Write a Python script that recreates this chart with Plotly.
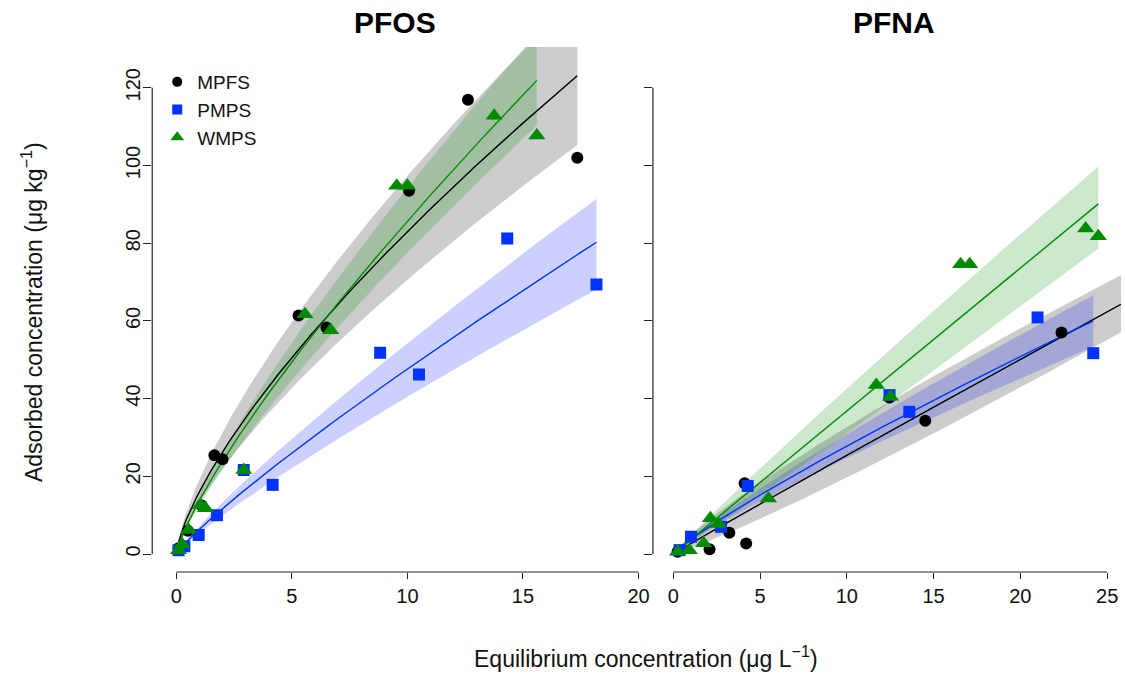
import numpy as np
import plotly.graph_objects as go

# ---------------- data ----------------
# PFOS panel
pfos_mpfs_x = [0.10, 0.50, 1.10, 1.65, 2.00, 5.29, 6.50, 10.07, 12.62, 17.35]
pfos_mpfs_y = [1.5, 6.0, 12.5, 25.4, 24.4, 61.4, 58.3, 93.5, 116.9, 102.0]
pfos_pmps_x = [0.10, 0.35, 0.97, 1.76, 2.92, 4.17, 8.82, 10.50, 14.32, 18.18]
pfos_pmps_y = [1.0, 2.0, 4.9, 10.0, 21.6, 17.8, 51.8, 46.2, 81.2, 69.4]
pfos_wmps_x = [0.10, 0.25, 0.53, 1.04, 1.26, 2.92, 5.57, 6.68, 9.54, 10.00, 13.75, 15.60]
pfos_wmps_y = [1.0, 2.5, 6.2, 12.6, 11.8, 21.6, 61.7, 57.6, 94.8, 94.8, 112.8, 107.7]

# PFNA panel
pfna_mpfs_x = [0.25, 2.09, 3.23, 4.11, 4.20, 12.46, 14.52, 22.37]
pfna_mpfs_y = [0.6, 1.2, 5.5, 18.2, 2.7, 40.3, 34.3, 57.0]
pfna_pmps_x = [0.36, 1.02, 2.75, 4.29, 12.46, 13.60, 20.99, 24.20]
pfna_pmps_y = [1.0, 4.45, 7.0, 17.5, 40.9, 36.6, 60.9, 51.7]
pfna_wmps_x = [0.25, 0.92, 1.75, 2.14, 2.60, 5.48, 11.70, 12.52, 16.56, 17.08, 23.76, 24.49]
pfna_wmps_y = [0.6, 1.0, 2.75, 9.2, 7.7, 14.3, 43.5, 40.5, 74.6, 74.6, 83.8, 81.8]

# Freundlich fits y = K * x^n, with confidence band edges K_lo*x^n_lo .. K_hi*x^n_hi
# order: MPFS, PMPS, WMPS
pfos_fit_K = [16.0, 6.38, 13.8]
pfos_fit_n = [0.715, 0.873, 0.793]
pfos_band_K_lo = [13.3, 5.42, 12.49]
pfos_band_n_lo = [0.725, 0.873, 0.793]
pfos_band_K_hi = [19.2, 7.27, 15.18]
pfos_band_n_hi = [0.705, 0.873, 0.793]
pfos_fit_xmin = [0.10, 0.10, 0.10]
pfos_fit_xmax = [17.35, 18.18, 15.60]

pfna_fit_K = [2.66, 3.73, 3.68]
pfna_fit_n = [0.98, 0.872, 1.0]
pfna_band_K_lo = [1.483, 3.32, 2.824]
pfna_band_n_lo = [1.123, 0.872, 1.04]
pfna_band_K_hi = [4.85, 4.14, 4.78]
pfna_band_n_hi = [0.829, 0.872, 0.95]
pfna_fit_xmin = [0.25, 0.36, 0.25]
pfna_fit_xmax = [27.0, 24.20, 24.49]

series_names = ["MPFS", "PMPS", "WMPS"]
series_colors = ["#000000", "#0033ff", "#008b00"]
band_colors = ["rgba(0,0,0,0.2)", "rgba(0,20,255,0.2)", "rgba(0,139,0,0.2)"]
marker_symbols = ["circle", "square", "triangle-up"]
marker_sizes = [12, 12, 15]

panel_titles = ["PFOS", "PFNA"]
x_title = "Equilibrium concentration (μg L<sup>−1</sup>)"
y_title = "Adsorbed concentration (μg kg<sup>−1</sup>)"
pfos_xticks = [0, 5, 10, 15, 20]
pfna_xticks = [0, 5, 10, 15, 20, 25]
yticks = [0, 20, 40, 60, 80, 100, 120]

FONT = "Liberation Sans, Arial, sans-serif"
W, H = 1125, 675
CX = 1 / 0.995   # small horizontal correction observed in rendering


def fx(px):
    return min(1.0, px * CX / W)


fig = go.Figure()

panels = [
    dict(xa="x", ya="y",
         pts=[(pfos_mpfs_x, pfos_mpfs_y), (pfos_pmps_x, pfos_pmps_y), (pfos_wmps_x, pfos_wmps_y)],
         K=pfos_fit_K, n=pfos_fit_n, Klo=pfos_band_K_lo, nlo=pfos_band_n_lo,
         Khi=pfos_band_K_hi, nhi=pfos_band_n_hi, xmin=pfos_fit_xmin, xmax=pfos_fit_xmax),
    dict(xa="x2", ya="y2",
         pts=[(pfna_mpfs_x, pfna_mpfs_y), (pfna_pmps_x, pfna_pmps_y), (pfna_wmps_x, pfna_wmps_y)],
         K=pfna_fit_K, n=pfna_fit_n, Klo=pfna_band_K_lo, nlo=pfna_band_n_lo,
         Khi=pfna_band_K_hi, nhi=pfna_band_n_hi, xmin=pfna_fit_xmin, xmax=pfna_fit_xmax),
]

for p in panels:
    for i in range(3):
        xs = np.linspace(p["xmin"][i], p["xmax"][i], 200)
        lo = p["Klo"][i] * xs ** p["nlo"][i]
        hi = p["Khi"][i] * xs ** p["nhi"][i]
        fig.add_trace(go.Scatter(
            x=np.concatenate([xs, xs[::-1]]), y=np.concatenate([hi, lo[::-1]]),
            fill="toself", fillcolor=band_colors[i], line=dict(width=0),
            mode="lines", hoverinfo="skip", showlegend=False,
            xaxis=p["xa"], yaxis=p["ya"]))
    for i in range(3):
        xs = np.linspace(p["xmin"][i], p["xmax"][i], 200)
        fig.add_trace(go.Scatter(
            x=xs, y=p["K"][i] * xs ** p["n"][i], mode="lines",
            line=dict(color=series_colors[i], width=1.4),
            showlegend=False, xaxis=p["xa"], yaxis=p["ya"]))
    for i in range(3):
        px, py = p["pts"][i]
        fig.add_trace(go.Scatter(
            x=px, y=py, mode="markers", name=series_names[i],
            marker=dict(color=series_colors[i], symbol=marker_symbols[i],
                        size=marker_sizes[i], line=dict(width=0)),
            showlegend=False, xaxis=p["xa"], yaxis=p["ya"]))

# legend entries
for i in range(3):
    fig.add_trace(go.Scatter(
        x=[None], y=[None], mode="markers", name=series_names[i],
        marker=dict(color=series_colors[i], symbol=marker_symbols[i],
                    size=[10, 10, 12][i], line=dict(width=0)),
        showlegend=True, xaxis="x", yaxis="y"))

# geometry (target pixels)
bot_px, top_px = 572, 47
yd = [(H - bot_px) / H, (H - top_px) / H]
left_dom = [fx(152), fx(645)]
right_dom = [fx(652), 1.0]
# right axis: 0 at 672.3 px, 17.33 px per unit (target)
r_unit = 17.33 * CX
r_lo = (652 - 672.3) / 17.33
r_hi = r_lo + (W - 652 * CX) / r_unit

axis_common = dict(showgrid=False, zeroline=False, showline=False,
                   ticks="outside", tickcolor="#222", tickwidth=1.2,
                   tickfont=dict(family=FONT, size=20, color="#111"))

fig.update_layout(
    width=W, height=H,
    margin=dict(l=0, r=0, t=0, b=0),
    paper_bgcolor="white", plot_bgcolor="white",
    showlegend=True,
    legend=dict(x=fx(157), y=1 - 63 / H, xanchor="left", yanchor="top",
                bgcolor="rgba(0,0,0,0)", font=dict(family=FONT, size=19, color="#111"),
                itemwidth=30, tracegroupgap=0),
    xaxis=dict(domain=left_dom, range=[-1.04, 20.32], tickvals=pfos_xticks,
               ticklen=6, anchor="y", **axis_common),
    yaxis=dict(domain=yd, range=[-4.63, 130.5], tickvals=yticks, ticklen=8,
               tickangle=-90, ticklabelstandoff=-5, anchor="x", **axis_common),
    xaxis2=dict(domain=right_dom, range=[r_lo, r_hi], tickvals=pfna_xticks,
                ticklen=6, anchor="y2", **axis_common),
    yaxis2=dict(domain=yd, range=[-4.63, 130.5], tickvals=yticks, ticklen=8,
                showticklabels=False, anchor="x2", **axis_common),
)

# R-style axis lines spanning only the tick range
line_style = dict(color="#222", width=1.2)
fig.add_shape(type="line", xref="x", yref="paper", x0=0, x1=20, y0=yd[0], y1=yd[0], line=line_style)
fig.add_shape(type="line", xref="x2", yref="paper", x0=0, x1=25, y0=yd[0], y1=yd[0], line=line_style)
fig.add_shape(type="line", xref="paper", yref="y", x0=left_dom[0], x1=left_dom[0], y0=0, y1=120, line=line_style)
fig.add_shape(type="line", xref="paper", yref="y2", x0=right_dom[0], x1=right_dom[0], y0=0, y1=120, line=line_style)

# titles
ann = dict(xref="paper", yref="paper", showarrow=False, xanchor="center", yanchor="middle")
fig.add_annotation(text="<b>" + panel_titles[0] + "</b>", x=fx(394), y=1 - 23 / H,
                   font=dict(family=FONT, size=30, color="#000"), **ann)
fig.add_annotation(text="<b>" + panel_titles[1] + "</b>", x=fx(893), y=1 - 23 / H,
                   font=dict(family=FONT, size=30, color="#000"), **ann)
fig.add_annotation(text=x_title, x=fx(645), y=1 - 657 / H,
                   font=dict(family=FONT, size=23, color="#111"), **ann)
fig.add_annotation(text=y_title, x=fx(32), y=1 - 312 / H, textangle=-90,
                   font=dict(family=FONT, size=23, color="#111"), **ann)

fig.write_html(
    "out.html",
    config={"displayModeBar": False},
    post_script=("document.body.style.margin='0px';"
                 "document.body.style.overflow='hidden';"
                 "document.documentElement.style.overflow='hidden';"),
)
